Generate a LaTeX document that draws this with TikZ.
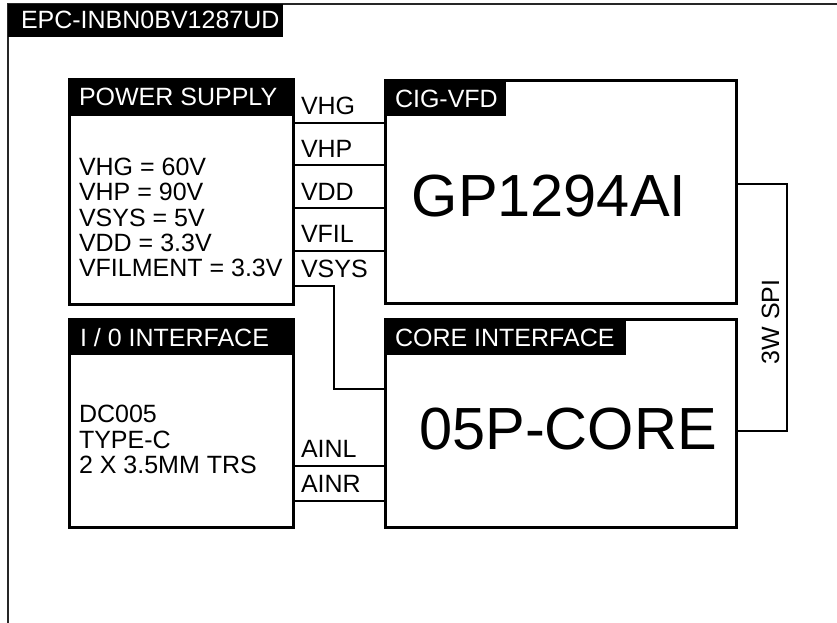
\documentclass[tikz,border=0pt]{standalone}
\usepackage{fontspec}
\setmainfont{Liberation Sans}
\begin{document}
\begin{tikzpicture}[x=1pt,y=-1pt,
  box/.style={draw=black, line width=3pt, inner sep=0pt, outer sep=0pt, anchor=north west},
  hdr/.style={fill=black, draw=none, inner sep=0pt, outer sep=0pt, anchor=north west},
  wire/.style={draw=black, line width=2.8pt, line join=miter},
  txt/.style={inner sep=0pt, outer sep=0pt, anchor=base west, font=\fontsize{25}{26}\selectfont, text=black},
  htxt/.style={txt, text=white},
  big/.style={inner sep=0pt, outer sep=0pt, anchor=base, font=\fontsize{59.5}{61}\selectfont, text=black}]
\useasboundingbox (0,0) rectangle (837,623);
% outer frame
\draw[line width=1.3pt, black!85] (837,4) -- (8,4) -- (8,623);
\node[hdr, minimum width=275pt, minimum height=33pt] (tab) at (8,4) {};
\node[htxt] (title) at (21,29) {EPC-INBN0BV1287UD};
% boxes
\node[box, minimum width=224pt, minimum height=224pt] (ps) at (69,80) {};
\node[box, minimum width=351pt, minimum height=222pt] (vfd) at (385,81) {};
\node[box, minimum width=224pt, minimum height=208pt] (io) at (69,319) {};
\node[box, minimum width=351pt, minimum height=208pt] (core) at (385,319) {};
% headers
\node[hdr, minimum width=224pt, minimum height=36pt] (psh) at (ps.north west) {};
\node[hdr, minimum width=121pt, minimum height=35pt] (vfdh) at (vfd.north west) {};
\node[hdr, minimum width=224pt, minimum height=36pt] (ioh) at (io.north west) {};
\node[hdr, minimum width=241pt, minimum height=36pt] (coreh) at (core.north west) {};
\node[htxt] (pst) at (79,106) {POWER SUPPLY};
\node[htxt] (vfdt) at (395,107) {CIG-VFD};
\node[htxt] (iot) at (80,346) {I / 0 INTERFACE};
\node[htxt] (coret) at (395,346) {CORE INTERFACE};
% big labels
\node[big] (gp) at (549,216) {GP1294AI};
\node[big] (cr) at (568,449) {05P-CORE};
% power supply values
\node[txt] (v1) at (79,175) {VHG = 60V};
\node[txt] (v2) at (79,200.5) {VHP = 90V};
\node[txt] (v3) at (79,226) {VSYS = 5V};
\node[txt] (v4) at (79,251) {VDD = 3.3V};
\node[txt] (v5) at (79,276.5) {VFILMENT = 3.3V};
% io values
\node[txt] (d1) at (79,422) {DC005};
\node[txt] (d2) at (79,448) {TYPE-C};
\node[txt] (d3) at (79,473) {2 X 3.5MM TRS};
% power wires
\draw[wire] (ps.east |- 0,123) -- (vfd.west |- 0,123);
\draw[wire] (ps.east |- 0,165) -- (vfd.west |- 0,165);
\draw[wire] (ps.east |- 0,208) -- (vfd.west |- 0,208);
\draw[wire] (ps.east |- 0,251) -- (vfd.west |- 0,251);
\coordinate (vs1) at (334,286);
\coordinate (vs2) at (334,389);
\draw[wire] (ps.east |- vs1) -- (vs1) -- (vs2) -- (core.west |- vs2);
\node[txt] (lvhg) at (301,114) {VHG};
\node[txt] (lvhp) at (301,157) {VHP};
\node[txt] (lvdd) at (301,200) {VDD};
\node[txt] (lvfil) at (301,242) {VFIL};
\node[txt] (lvsys) at (301,277) {VSYS};
% audio wires
\draw[wire] (io.east |- 0,466) -- (core.west |- 0,466);
\draw[wire] (io.east |- 0,501) -- (core.west |- 0,501);
\node[txt] (lainl) at (301,457) {AINL};
\node[txt] (lainr) at (301,492) {AINR};
% SPI
\coordinate (s1) at (787,184);
\coordinate (s2) at (787,431);
\draw[wire] (vfd.east |- s1) -- (s1) -- (s2) -- (core.east |- s2);
\node[inner sep=0pt, rotate=90, font=\fontsize{25}{26}\selectfont] (spi) at (770.5,322) {3W SPI};
\end{tikzpicture}
\end{document}
